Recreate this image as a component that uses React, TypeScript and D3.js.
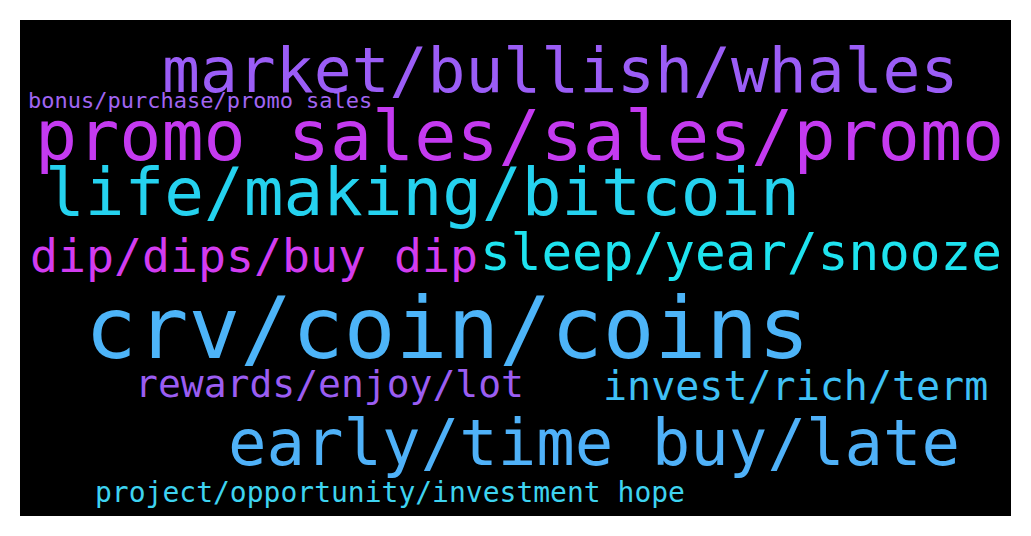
import * as d3 from 'd3';
import React from 'react';

// word cloud terms, relative weight (font size), layout position in cloud units (0-1000 x 0-500)
const words = [
  'market/bullish/whales',
  'bonus/purchase/promo sales',
  'promo sales/sales/promo',
  'life/making/bitcoin',
  'dip/dips/buy dip',
  'sleep/year/snooze',
  'crv/coin/coins',
  'rewards/enjoy/lot',
  'invest/rich/term',
  'early/time buy/late',
  'project/opportunity/investment hope',
];
const weights = [63, 22, 70, 66, 46.5, 51, 86, 38, 40, 64, 28];
const cloudX = [142, 8, 15, 25, 10, 460, 65, 115, 583, 208, 75];
const cloudY = [72, 88, 140, 195, 252, 250, 338, 377, 380, 445, 482];
const colors = ['#9b5df6', '#a065f2', '#c43af0', '#25d2ef', '#d23cf0', '#1ee3ef', '#4db4f8', '#9b5df2', '#3fc0f5', '#4fb1f8', '#3ed3f0'];

const W = 1031, H = 536;
const box = { left: 20, top: 20, width: 991, height: 496 };

export default function App() {
  const x = d3.scaleLinear().domain([0, 1000]).range([box.left, box.left + 1000]);
  const y = d3.scaleLinear().domain([0, 500]).range([box.top, box.top + 500]);
  const size = d3.scaleLinear().domain([0, 100]).range([0, 100]);
  const charW = 0.602;
  return (
    <svg width={W} height={H} style={{ position: 'absolute', left: 0, top: 0 }}>
      <rect width={W} height={H} fill="#fff" />
      <rect x={box.left} y={box.top} width={box.width} height={box.height} fill="#000" />
      {words.map((w, i) => (
        <text
          key={w}
          x={x(cloudX[i])}
          y={y(cloudY[i])}
          fontFamily="DejaVu Sans Mono"
          fontSize={size(weights[i])}
          fill={colors[i]}
          textLength={w.length * size(weights[i]) * charW}
          lengthAdjust="spacingAndGlyphs"
        >
          {w}
        </text>
      ))}
    </svg>
  );
}
